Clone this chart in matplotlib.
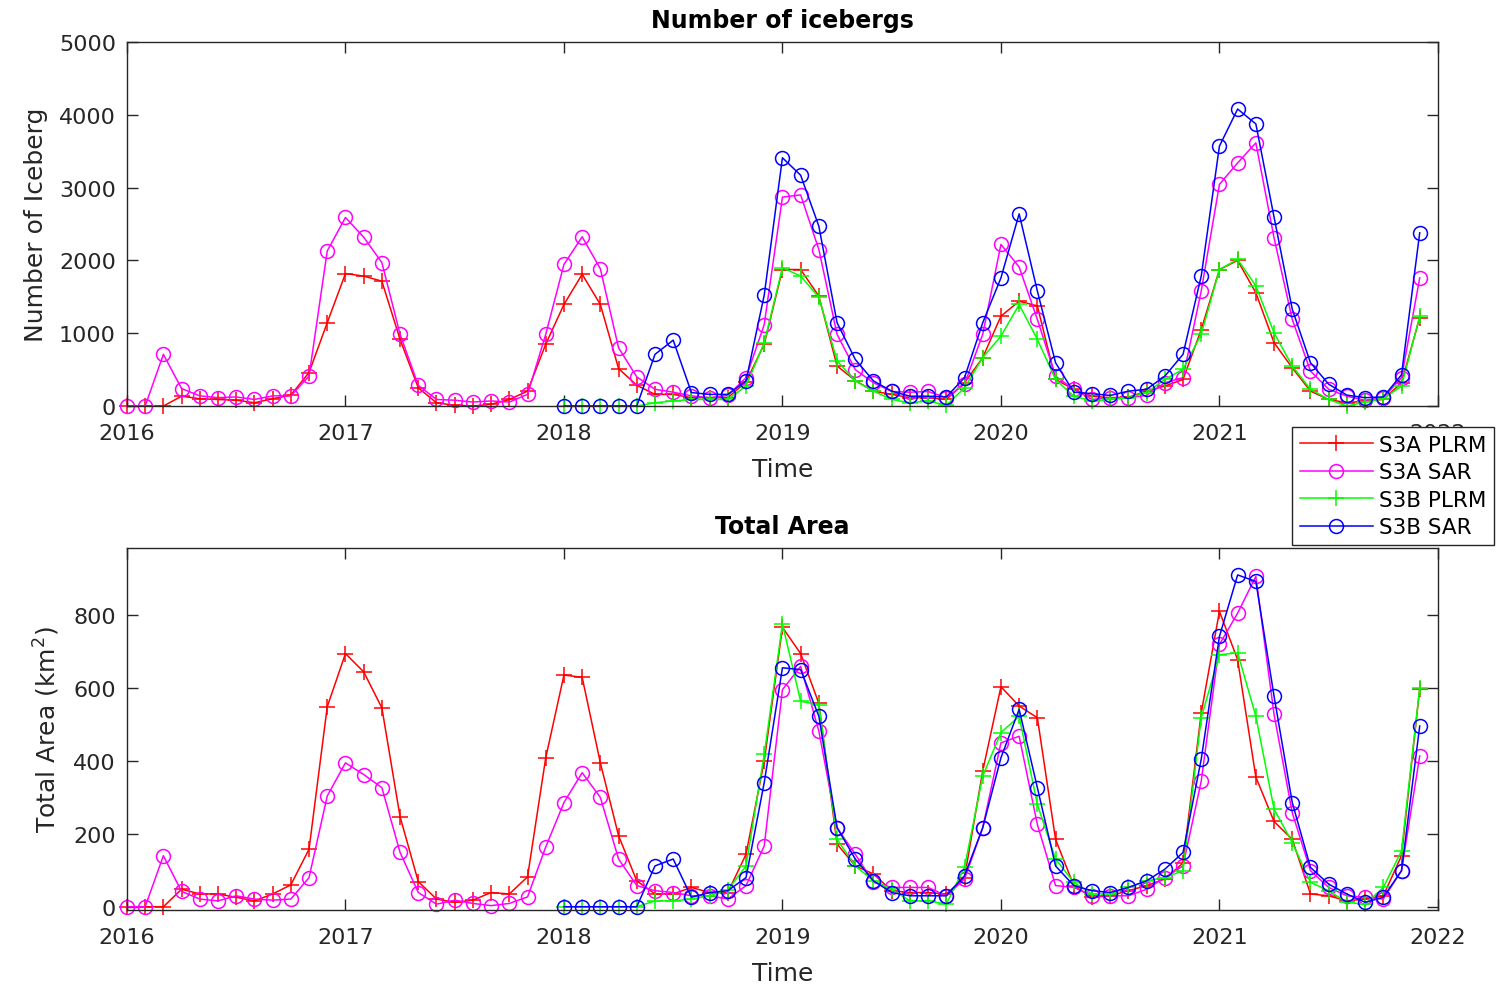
import numpy as np
import matplotlib
matplotlib.use("Agg")
import matplotlib.pyplot as plt

# monthly series, Jan 2016 .. Dec 2021 (S3B from Jan 2018)
start_year = 2016
s3b_offset = 24  # months before first S3B value

# number of icebergs
s3a_plrm_n = [0, 0, 0, 135, 100, 90, 80, 45, 100, 150, 460, 1145,
              1820, 1785, 1715, 915, 250, 45, 10, 0, 25, 90, 205, 850,
              1395, 1810, 1395, 515, 285, 160, 160, 115, 115, 115, 330, 850,
              1875, 1875, 1510, 550, 350, 205, 160, 115, 115, 90, 320, 665,
              1235, 1440, 1375, 365, 230, 135, 115, 120, 205, 275, 365, 1050,
              1875, 2000, 1555, 870, 525, 205, 90, 45, 70, 90, 320, 1215]
s3a_sar_n = [0, 0, 710, 240, 140, 115, 125, 90, 140, 140, 410, 2130,
             2590, 2320, 1970, 985, 285, 90, 80, 55, 70, 55, 160, 985,
             1945, 2325, 1885, 800, 400, 230, 190, 140, 115, 145, 390, 1120,
             2870, 2900, 2150, 985, 500, 320, 200, 190, 200, 115, 300, 985,
             2220, 1910, 1190, 410, 230, 90, 115, 115, 145, 320, 390, 1580,
             3045, 3340, 3615, 2310, 1190, 480, 230, 135, 80, 115, 390, 1760]
s3b_plrm_n = [0, 0, 0, 0, 0, 45, 70, 90, 90, 90, 275, 870,
              1900, 1785, 1495, 620, 345, 205, 90, 45, 70, 10, 250, 665,
              960, 1395, 915, 365, 135, 70, 90, 115, 185, 365, 505, 985,
              1875, 2015, 1650, 1005, 550, 230, 90, 0, 55, 100, 275, 1235]
s3b_sar_n = [0, 0, 0, 0, 0, 710, 905, 185, 160, 160, 345, 1525,
             3410, 3170, 2470, 1145, 640, 345, 205, 135, 135, 125, 390, 1145,
             1760, 2640, 1580, 595, 190, 170, 145, 205, 230, 410, 710, 1785,
             3570, 4080, 3875, 2595, 1330, 595, 300, 150, 115, 125, 430, 2380]

# total area (km^2)
s3a_plrm_a = [0, 0, 0, 48, 35, 35, 26, 16, 35, 60, 158, 549,
              695, 645, 546, 247, 69, 21, 12, 18, 39, 35, 82, 409,
              636, 630, 395, 195, 71, 35, 35, 53, 39, 39, 144, 400,
              767, 695, 558, 172, 112, 90, 44, 39, 39, 35, 80, 373,
              604, 551, 519, 185, 58, 26, 30, 44, 58, 76, 120, 532,
              811, 678, 356, 234, 185, 35, 30, 16, 21, 30, 140, 599]
s3a_sar_a = [0, 0, 140, 42, 21, 16, 30, 21, 18, 21, 80, 304,
             395, 363, 327, 149, 39, 7, 18, 9, 3, 9, 27, 164,
             286, 368, 300, 131, 58, 44, 39, 30, 30, 21, 58, 167,
             596, 660, 482, 217, 144, 67, 53, 53, 53, 30, 76, 217,
             450, 468, 226, 58, 53, 30, 30, 30, 48, 80, 112, 345,
             720, 806, 907, 528, 258, 99, 53, 30, 26, 21, 99, 414]
s3b_plrm_a = [0, 0, 0, 0, 0, 16, 16, 21, 30, 46, 112, 418,
              776, 564, 555, 185, 112, 71, 48, 16, 16, 7, 108, 359,
              478, 523, 281, 131, 67, 35, 35, 53, 71, 80, 99, 519,
              692, 697, 523, 268, 176, 67, 44, 12, 7, 53, 153, 601]
s3b_sar_a = [0, 0, 0, 0, 0, 112, 131, 26, 39, 44, 80, 341,
             656, 651, 523, 217, 131, 71, 39, 30, 30, 30, 85, 217,
             409, 542, 327, 112, 58, 44, 39, 53, 71, 103, 149, 405,
             742, 911, 893, 578, 286, 108, 62, 35, 12, 26, 99, 496]

labels = ["S3A PLRM", "S3A SAR", "S3B PLRM", "S3B SAR"]
colors = ["#ff0000", "#ff00ff", "#00ff00", "#0000ff"]
markers = ["+", "o", "+", "o"]

years = np.arange(2016, 2023)

plt.rcParams["font.family"] = "DejaVu Sans"
dark = "#262626"


def decimal_time(n, offset=0):
    return start_year + (np.arange(n) + offset) / 12.0


def style_axes(ax, title, ylabel, ylim, yticks):
    ax.set_xlim(2016, 2022)
    ax.set_ylim(*ylim)
    ax.set_xticks(years)
    ax.set_yticks(yticks)
    ax.tick_params(direction="in", length=8, width=1, top=True, right=True,
                   labelsize=16, colors=dark)
    ax.tick_params(axis="x", pad=12)
    ax.tick_params(axis="y", pad=8)
    for sp in ax.spines.values():
        sp.set_color(dark)
        sp.set_linewidth(1.0)
    ax.set_title(title, fontsize=17, fontweight="bold", color="black", pad=11)
    ax.set_xlabel("Time", fontsize=18, color=dark, labelpad=10)
    ax.set_ylabel(ylabel, fontsize=18, color=dark, labelpad=8)


def draw_series(ax, series):
    handles = []
    for vals, off, lab, col, mk in series:
        t = decimal_time(len(vals), off)
        ms = 11 if mk == "+" else 10
        h, = ax.plot(t, vals, color=col, marker=mk, ms=ms, mfc="none",
                     mec=col, mew=1.1, lw=1.1, label=lab, clip_on=False)
        handles.append(h)
    return handles


fig = plt.figure(figsize=(15.06, 9.87), dpi=100)
ax1 = fig.add_axes([0.0843, 0.5876, 0.8705, 0.3688])
ax2 = fig.add_axes([0.0843, 0.0770, 0.8705, 0.3668])

h = draw_series(ax1, [
    (s3a_plrm_n, 0, labels[0], colors[0], markers[0]),
    (s3a_sar_n, 0, labels[1], colors[1], markers[1]),
    (s3b_plrm_n, s3b_offset, labels[2], colors[2], markers[2]),
    (s3b_sar_n, s3b_offset, labels[3], colors[3], markers[3]),
])
style_axes(ax1, "Number of icebergs", "Number of Iceberg",
           (0, 5000), np.arange(0, 5001, 1000))

draw_series(ax2, [
    (s3a_plrm_a, 0, labels[0], colors[0], markers[0]),
    (s3a_sar_a, 0, labels[1], colors[1], markers[1]),
    (s3b_plrm_a, s3b_offset, labels[2], colors[2], markers[2]),
    (s3b_sar_a, s3b_offset, labels[3], colors[3], markers[3]),
])
style_axes(ax2, "Total Area", "Total Area (km$^2$)",
           (-9, 985), np.arange(0, 801, 200))

leg = fig.legend(handles=h, loc="upper left", bbox_to_anchor=(0.858, 0.566),
                 fontsize=15.5, frameon=True, fancybox=False, framealpha=1,
                 handlelength=3.4, borderpad=0.35, labelspacing=0.35,
                 handletextpad=0.3, borderaxespad=0)
leg.get_frame().set_edgecolor(dark)
leg.get_frame().set_linewidth(1.0)
leg.set_zorder(10)

fig.savefig("out.png", dpi=100)
